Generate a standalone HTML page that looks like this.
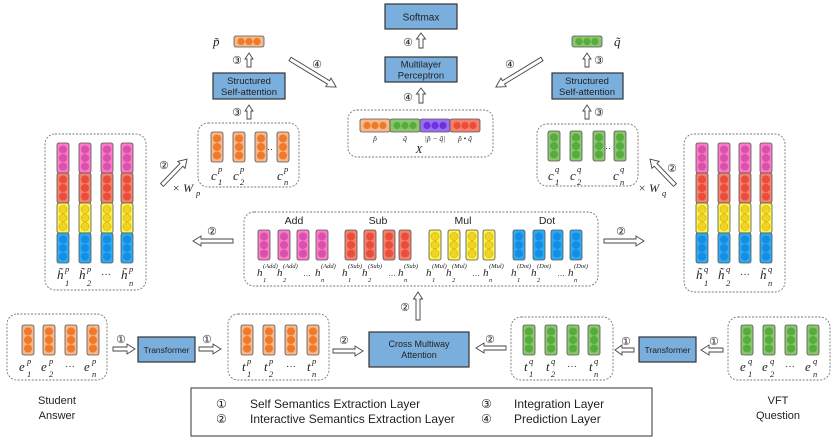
<!DOCTYPE html>
<html><head><meta charset="utf-8"><style>
html,body{margin:0;padding:0;background:#fff}
svg{display:block}
.s{font-family:"Liberation Sans","DejaVu Sans",sans-serif;fill:#222}
.m{font-family:"Liberation Serif","DejaVu Serif",serif;font-style:italic;fill:#222}
.c{font-family:"DejaVu Sans",sans-serif;fill:#222}
.box{fill:#7aaedc;stroke:#333;stroke-width:1.2}
.dash{fill:none;stroke:#777;stroke-width:0.9;stroke-dasharray:2,1.5}
.ar{fill:#fff;stroke:#444;stroke-width:0.9}
</style></head><body>
<svg width="831" height="443" viewBox="0 0 831 443" xmlns="http://www.w3.org/2000/svg">
<defs>
<g id="o"><rect x="0" y="0" width="12" height="30" rx="2" fill="#f7b98c" stroke="#555" stroke-width="0.8"/><circle cx="6" cy="6.5" r="4" fill="#ef7a2a"/><circle cx="6" cy="15" r="4" fill="#ef7a2a"/><circle cx="6" cy="23.5" r="4" fill="#ef7a2a"/></g>
<g id="g"><rect x="0" y="0" width="12" height="30" rx="2" fill="#8dc46e" stroke="#555" stroke-width="0.8"/><circle cx="6" cy="6.5" r="4" fill="#55ad3e"/><circle cx="6" cy="15" r="4" fill="#55ad3e"/><circle cx="6" cy="23.5" r="4" fill="#55ad3e"/></g>
<g id="pk"><rect x="0" y="0" width="12" height="30" rx="2" fill="#f87cc6" stroke="#555" stroke-width="0.8"/><circle cx="6" cy="6.5" r="4" fill="#db4fad"/><circle cx="6" cy="15" r="4" fill="#db4fad"/><circle cx="6" cy="23.5" r="4" fill="#db4fad"/></g>
<g id="r"><rect x="0" y="0" width="12" height="30" rx="2" fill="#f4806e" stroke="#555" stroke-width="0.8"/><circle cx="6" cy="6.5" r="4" fill="#ea4e3b"/><circle cx="6" cy="15" r="4" fill="#ea4e3b"/><circle cx="6" cy="23.5" r="4" fill="#ea4e3b"/></g>
<g id="y"><rect x="0" y="0" width="12" height="30" rx="2" fill="#faf250" stroke="#555" stroke-width="0.8"/><circle cx="6" cy="6.5" r="4" fill="#f2d222" stroke="#c8a800" stroke-width="0.5"/><circle cx="6" cy="15" r="4" fill="#f2d222" stroke="#c8a800" stroke-width="0.5"/><circle cx="6" cy="23.5" r="4" fill="#f2d222" stroke="#c8a800" stroke-width="0.5"/></g>
<g id="b"><rect x="0" y="0" width="12" height="30" rx="2" fill="#2faaf0" stroke="#555" stroke-width="0.8"/><circle cx="6" cy="6.5" r="4" fill="#138ee4"/><circle cx="6" cy="15" r="4" fill="#138ee4"/><circle cx="6" cy="23.5" r="4" fill="#138ee4"/></g>
<g id="stk"><use href="#pk" y="0"/><use href="#r" y="30"/><use href="#y" y="60"/><use href="#b" y="90"/></g>
</defs>

<rect class="box" x="385" y="4" width="72" height="25"/>
<text class="s" x="421" y="20.5" font-size="10" text-anchor="middle">Softmax</text>
<path class="ar" d="M419,48 V39 H416.5 L421,33 L425.5,39 H423 V48 Z"/>
<text class="c" x="403" y="46" font-size="11">④</text>
<rect class="box" x="385" y="57" width="72" height="25"/>
<text class="s" x="421" y="67.5" font-size="9.5" text-anchor="middle">Multilayer</text>
<text class="s" x="421" y="78.5" font-size="9.5" text-anchor="middle">Perceptron</text>
<path class="ar" d="M419,103 V94 H416.5 L421,88 L425.5,94 H423 V103 Z"/>
<text class="c" x="403" y="101" font-size="11">④</text>

<rect class="dash" x="348" y="110" width="145" height="47" rx="9"/>
<rect x="360" y="119" width="30" height="13" rx="2" fill="#f7b98c" stroke="#555" stroke-width="0.8"/>
<rect x="390" y="119" width="30" height="13" rx="2" fill="#8dc46e" stroke="#555" stroke-width="0.8"/>
<rect x="420" y="119" width="30" height="13" rx="2" fill="#9a6ff0" stroke="#555" stroke-width="0.8"/>
<rect x="450" y="119" width="30" height="13" rx="2" fill="#f4806e" stroke="#555" stroke-width="0.8"/>
<g fill="#ef7a2a"><circle cx="367" cy="125.5" r="3.6"/><circle cx="375" cy="125.5" r="3.6"/><circle cx="383" cy="125.5" r="3.6"/></g>
<g fill="#55ad3e"><circle cx="397" cy="125.5" r="3.6"/><circle cx="405" cy="125.5" r="3.6"/><circle cx="413" cy="125.5" r="3.6"/></g>
<g fill="#6a32e0"><circle cx="427" cy="125.5" r="3.6"/><circle cx="435" cy="125.5" r="3.6"/><circle cx="443" cy="125.5" r="3.6"/></g>
<g fill="#ea4e3b"><circle cx="457" cy="125.5" r="3.6"/><circle cx="465" cy="125.5" r="3.6"/><circle cx="473" cy="125.5" r="3.6"/></g>
<text class="m" x="375" y="141" font-size="7.5" text-anchor="middle">p̃</text>
<text class="m" x="405" y="141" font-size="7.5" text-anchor="middle">q̃</text>
<text class="m" x="435" y="141" font-size="7.5" text-anchor="middle">|p̃ − q̃|</text>
<text class="m" x="465" y="141" font-size="7.5" text-anchor="middle">p̃ • q̃</text>
<text class="m" x="419" y="153" font-size="11" text-anchor="middle">X</text>

<text class="m" x="213" y="46" font-size="13">p̃</text>
<rect x="234" y="36" width="30" height="11" rx="2" fill="#f7b98c" stroke="#555" stroke-width="0.8"/>
<g fill="#ef7a2a"><circle cx="241" cy="41.5" r="3.6"/><circle cx="249" cy="41.5" r="3.6"/><circle cx="257" cy="41.5" r="3.6"/></g>
<path class="ar" d="M247,67 V59 H245 L249,53 L253,59 H251 V67 Z"/>
<text class="c" x="232" y="64" font-size="11">③</text>
<rect class="box" x="213" y="73" width="72" height="26"/>
<text class="s" x="249" y="84" font-size="9.5" text-anchor="middle">Structured</text>
<text class="s" x="249" y="95" font-size="9.5" text-anchor="middle">Self-attention</text>
<path class="ar" d="M247,119 V111 H245 L249,105 L253,111 H251 V119 Z"/>
<text class="c" x="232" y="116" font-size="11">③</text>
<path class="ar" transform="translate(290,59) rotate(31.3)" d="M0,-2 H45 V-5 L54,0 L45,5 V2 H0 Z"/>
<text class="c" x="312" y="68" font-size="11">④</text>

<rect class="dash" x="198" y="123" width="101" height="64" rx="10"/>
<use href="#o" x="211" y="132"/><use href="#o" x="233" y="132"/><use href="#o" x="255" y="132"/><use href="#o" x="277" y="132"/>
<text class="s" x="267" y="152" font-size="9">··</text>
<g class="m" font-size="13"><text x="211" y="180">c</text><text x="233" y="180">c</text><text x="277" y="180">c</text></g>
<g class="m" font-size="8.5"><text x="218" y="172">p</text><text x="218" y="185">1</text><text x="240" y="172">p</text><text x="240" y="185">2</text><text x="284" y="172">p</text><text x="284" y="185">n</text></g>

<rect x="572" y="36" width="30" height="11" rx="2" fill="#8dc46e" stroke="#555" stroke-width="0.8"/>
<g fill="#55ad3e"><circle cx="579" cy="41.5" r="3.6"/><circle cx="587" cy="41.5" r="3.6"/><circle cx="595" cy="41.5" r="3.6"/></g>
<text class="m" x="614" y="46" font-size="13">q̃</text>
<path class="ar" d="M585,67 V59 H583 L587,53 L591,59 H589 V67 Z"/>
<text class="c" x="594" y="64" font-size="11">③</text>
<rect class="box" x="552" y="73" width="71" height="26"/>
<text class="s" x="587" y="84" font-size="9.5" text-anchor="middle">Structured</text>
<text class="s" x="587" y="95" font-size="9.5" text-anchor="middle">Self-attention</text>
<path class="ar" d="M585,119 V111 H583 L587,105 L591,111 H589 V119 Z"/>
<text class="c" x="594" y="116" font-size="11">③</text>
<path class="ar" transform="translate(542,59) rotate(148.7)" d="M0,-2 H45 V-5 L54,0 L45,5 V2 H0 Z"/>
<text class="c" x="505" y="68" font-size="11">④</text>

<rect class="dash" x="537" y="124" width="101" height="62" rx="10"/>
<use href="#g" x="548" y="131"/><use href="#g" x="570" y="131"/><use href="#g" x="593" y="131"/><use href="#g" x="614" y="131"/>
<text class="s" x="605" y="151" font-size="9">··</text>
<g class="m" font-size="13"><text x="548" y="180">c</text><text x="570" y="180">c</text><text x="613" y="180">c</text></g>
<g class="m" font-size="8.5"><text x="555" y="172">q</text><text x="555" y="185">1</text><text x="577" y="172">q</text><text x="577" y="185">2</text><text x="620" y="172">q</text><text x="620" y="185">n</text></g>

<rect class="dash" x="45" y="134" width="101" height="156" rx="10"/>
<use href="#stk" x="57" y="143"/><use href="#stk" x="79" y="143"/><use href="#stk" x="101" y="143"/><use href="#stk" x="121" y="143"/>
<g class="m" font-size="13"><text x="57" y="279">h̃</text><text x="79" y="279">h̃</text><text x="121" y="279">h̃</text></g>
<text class="s" x="101" y="277" font-size="10">···</text>
<g class="m" font-size="8.5"><text x="65" y="272">p</text><text x="65" y="286">1</text><text x="87" y="272">p</text><text x="87" y="286">2</text><text x="129" y="272">p</text><text x="129" y="286">n</text></g>
<path class="ar" transform="translate(162,185) rotate(-46)" d="M0,-2 H28 V-5 L36,0 L28,5 V2 H0 Z"/>
<text class="c" x="159" y="169" font-size="11">②</text>
<text class="m" x="172" y="192" font-size="12">× W</text>
<text class="m" x="196" y="196" font-size="8.5">p</text>

<rect class="dash" x="684" y="134" width="101" height="158" rx="10"/>
<use href="#stk" x="696" y="143"/><use href="#stk" x="718" y="143"/><use href="#stk" x="739" y="143"/><use href="#stk" x="760" y="143"/>
<g class="m" font-size="13"><text x="696" y="279">h̃</text><text x="718" y="279">h̃</text><text x="760" y="279">h̃</text></g>
<text class="s" x="740" y="277" font-size="10">···</text>
<g class="m" font-size="8.5"><text x="704" y="272">q</text><text x="704" y="286">1</text><text x="726" y="272">q</text><text x="726" y="286">2</text><text x="768" y="272">q</text><text x="768" y="286">n</text></g>
<path class="ar" transform="translate(675,185) rotate(-134)" d="M0,-2 H28 V-5 L36,0 L28,5 V2 H0 Z"/>
<text class="c" x="667" y="172" font-size="11">②</text>
<text class="m" x="638" y="192" font-size="12">× W</text>
<text class="m" x="662" y="196" font-size="8.5">q</text>

<rect class="dash" x="244" y="212" width="354" height="74" rx="10"/>
<g class="s" font-size="10.5" text-anchor="middle"><text x="294" y="224">Add</text><text x="378" y="224">Sub</text><text x="463" y="224">Mul</text><text x="547" y="224">Dot</text></g>
<use href="#pk" x="258" y="230"/><use href="#pk" x="278" y="230"/><use href="#pk" x="297" y="230"/><use href="#pk" x="316" y="230"/>
<use href="#r" x="345" y="230"/><use href="#r" x="364" y="230"/><use href="#r" x="383" y="230"/><use href="#r" x="399" y="230"/>
<use href="#y" x="429" y="230"/><use href="#y" x="448" y="230"/><use href="#y" x="466" y="230"/><use href="#y" x="483" y="230"/>
<use href="#b" x="513" y="230"/><use href="#b" x="533" y="230"/><use href="#b" x="551" y="230"/><use href="#b" x="570" y="230"/>
<g class="m" font-size="11">
<text x="257" y="276">h</text><text x="277" y="276">h</text><text x="315" y="276">h</text>
<text x="342" y="276">h</text><text x="362" y="276">h</text><text x="398" y="276">h</text>
<text x="426" y="276">h</text><text x="446" y="276">h</text><text x="483" y="276">h</text>
<text x="511" y="276">h</text><text x="531" y="276">h</text><text x="568" y="276">h</text>
</g>
<g class="m" font-size="6.5">
<text x="263" y="268">(Add)</text><text x="263" y="282">1</text><text x="283" y="268">(Add)</text><text x="283" y="282">2</text><text x="321" y="268">(Add)</text><text x="321" y="282">n</text>
<text x="348" y="268">(Sub)</text><text x="348" y="282">1</text><text x="368" y="268">(Sub)</text><text x="368" y="282">2</text><text x="404" y="268">(Sub)</text><text x="404" y="282">n</text>
<text x="432" y="268">(Mul)</text><text x="432" y="282">1</text><text x="452" y="268">(Mul)</text><text x="452" y="282">2</text><text x="489" y="268">(Mul)</text><text x="489" y="282">n</text>
<text x="517" y="268">(Dot)</text><text x="517" y="282">1</text><text x="537" y="268">(Dot)</text><text x="537" y="282">2</text><text x="574" y="268">(Dot)</text><text x="574" y="282">n</text>
</g>
<g class="s" font-size="8"><text x="303" y="276">…</text><text x="388" y="276">…</text><text x="472" y="276">…</text><text x="557" y="276">…</text></g>
<path class="ar" d="M233,239 H201 V236 L193,241 L201,246 V243 H233 Z"/>
<text class="c" x="207" y="235" font-size="11">②</text>
<path class="ar" d="M604,239 H636 V236 L644,241 L636,246 V243 H604 Z"/>
<text class="c" x="616" y="235" font-size="11">②</text>
<path class="ar" d="M416,320 V299 H413.5 L418,292 L422.5,299 H420 V320 Z"/>
<text class="c" x="400" y="311" font-size="11">②</text>

<rect class="dash" x="7" y="314" width="100" height="66" rx="10"/>
<use href="#o" x="22" y="325"/><use href="#o" x="43" y="325"/><use href="#o" x="65" y="325"/><use href="#o" x="87" y="325"/>
<g class="m" font-size="13"><text x="19" y="371">e</text><text x="41" y="371">e</text><text x="84" y="371">e</text></g>
<text class="s" x="65" y="369" font-size="10">···</text>
<g class="m" font-size="8.5"><text x="27" y="364">p</text><text x="27" y="377">1</text><text x="49" y="364">p</text><text x="49" y="377">2</text><text x="92" y="364">p</text><text x="92" y="377">n</text></g>
<path class="ar" d="M113,347 H127 V344 L135,349 L127,354 V351 H113 Z"/>
<text class="c" x="116" y="343" font-size="11">①</text>
<rect class="box" x="138" y="337" width="57" height="25"/>
<text class="s" x="166.5" y="353" font-size="8.5" text-anchor="middle">Transformer</text>
<path class="ar" d="M199,347 H213 V344 L221,349 L213,354 V351 H199 Z"/>
<text class="c" x="202" y="343" font-size="11">①</text>
<rect class="dash" x="228" y="314" width="101" height="66" rx="10"/>
<use href="#o" x="241" y="325"/><use href="#o" x="263" y="325"/><use href="#o" x="285" y="325"/><use href="#o" x="307" y="325"/>
<g class="m" font-size="13"><text x="242" y="371">t</text><text x="264" y="371">t</text><text x="307" y="371">t</text></g>
<text class="s" x="286" y="369" font-size="10">···</text>
<g class="m" font-size="8.5"><text x="247" y="364">p</text><text x="247" y="377">1</text><text x="269" y="364">p</text><text x="269" y="377">2</text><text x="312" y="364">p</text><text x="312" y="377">n</text></g>
<path class="ar" d="M333,349 H355 V346 L363,351 L355,356 V353 H333 Z"/>
<text class="c" x="339" y="344" font-size="11">②</text>
<rect class="box" x="369" y="332" width="100" height="35"/>
<text class="s" x="419" y="347" font-size="9" text-anchor="middle">Cross Multiway</text>
<text class="s" x="419" y="358" font-size="9" text-anchor="middle">Attention</text>
<path class="ar" d="M506,346 H484 V343 L476,348 L484,353 V350 H506 Z"/>
<text class="c" x="485" y="343" font-size="11">②</text>
<text class="s" x="57" y="404" font-size="11" text-anchor="middle">Student</text>
<text class="s" x="57" y="419" font-size="11" text-anchor="middle">Answer</text>

<rect class="dash" x="511" y="317" width="102" height="63" rx="10"/>
<use href="#g" x="523" y="325"/><use href="#g" x="545" y="325"/><use href="#g" x="567" y="325"/><use href="#g" x="588" y="325"/>
<g class="m" font-size="13"><text x="524" y="371">t</text><text x="546" y="371">t</text><text x="589" y="371">t</text></g>
<text class="s" x="567" y="369" font-size="10">···</text>
<g class="m" font-size="8.5"><text x="529" y="364">q</text><text x="529" y="377">1</text><text x="551" y="364">q</text><text x="551" y="377">2</text><text x="594" y="364">q</text><text x="594" y="377">n</text></g>
<path class="ar" d="M634,348 H622 V345 L615,350 L622,355 V352 H634 Z"/>
<text class="c" x="621" y="345" font-size="11">①</text>
<rect class="box" x="639" y="337" width="57" height="25"/>
<text class="s" x="667.5" y="353" font-size="8.5" text-anchor="middle">Transformer</text>
<path class="ar" d="M723,348 H709 V345 L701,350 L709,355 V352 H723 Z"/>
<text class="c" x="709" y="345" font-size="11">①</text>
<rect class="dash" x="728" y="317" width="102" height="63" rx="10"/>
<use href="#g" x="741" y="325"/><use href="#g" x="763" y="325"/><use href="#g" x="785" y="325"/><use href="#g" x="807" y="325"/>
<g class="m" font-size="13"><text x="740" y="371">e</text><text x="762" y="371">e</text><text x="805" y="371">e</text></g>
<text class="s" x="785" y="369" font-size="10">···</text>
<g class="m" font-size="8.5"><text x="748" y="364">q</text><text x="748" y="377">1</text><text x="770" y="364">q</text><text x="770" y="377">2</text><text x="813" y="364">q</text><text x="813" y="377">n</text></g>
<text class="s" x="778" y="404" font-size="11" text-anchor="middle">VFT</text>
<text class="s" x="778" y="419" font-size="11" text-anchor="middle">Question</text>

<rect x="191" y="388" width="461" height="48" fill="#fff" stroke="#333" stroke-width="1"/>
<g font-size="12">
<text class="c" x="216" y="408">①</text><text class="s" x="250" y="408">Self Semantics Extraction Layer</text>
<text class="c" x="216" y="423">②</text><text class="s" x="250" y="423">Interactive Semantics Extraction Layer</text>
<text class="c" x="481" y="408">③</text><text class="s" x="514" y="408">Integration Layer</text>
<text class="c" x="481" y="423">④</text><text class="s" x="514" y="423">Prediction Layer</text>
</g>
</svg>
</body></html>
